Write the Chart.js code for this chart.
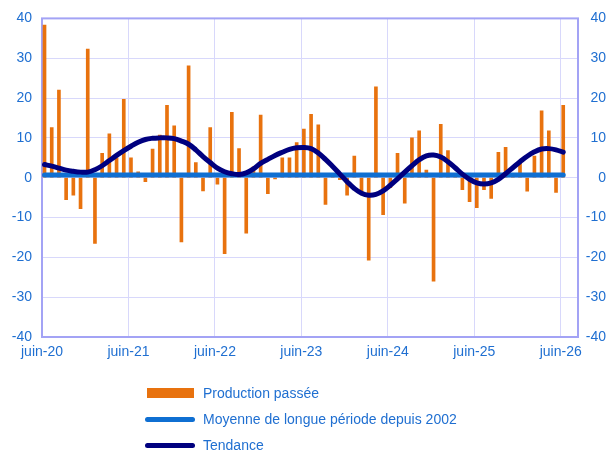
<!DOCTYPE html>
<html>
<head>
<meta charset="utf-8">
<script src="https://cdn.jsdelivr.net/npm/chart.js@4.4.1/dist/chart.umd.min.js"></script>
<style>
    body { margin: 0; background: #fff; }
    #wrap { position: relative; width: 606px; height: 456px; }
    #legend { position: absolute; left: 145px; top: 380px; font: 14px 'Liberation Sans', Arial, sans-serif; color: #1f6fd1; }
    .item { height: 26px; display: flex; align-items: center; }
    .sym { width: 50px; margin-right: 8px; display: flex; justify-content: center; }
</style>
</head>
<body>
<div id="wrap">
    <canvas id="myChart" width="606" height="456"></canvas>
    <div id="legend"></div>
</div>
<script>
// tick labels of the x axis (one per year, June)
var tickLabels = ['juin-20', 'juin-21', 'juin-22', 'juin-23', 'juin-24', 'juin-25', 'juin-26'];
var yTicks = [-40, -30, -20, -10, 0, 10, 20, 30, 40];

// monthly values, juin-20 .. juin-26
var production = [
    38.3, 12.6, 22.0, -5.5, -4.4, -7.8, 32.3, -16.5, 6.1, 11.0, 5.0, 19.7,
    5.0, 1.5, -1.0, 7.2, 10.7, 18.2, 13.0, -16.1, 28.1, 3.8, -3.3, 12.6,
    -1.6, -19.1, 16.4, 7.3, -13.9, 2.7, 15.7, -4.0, -0.3, 5.0, 5.0, 8.8,
    12.2, 15.9, 13.3, -6.7, 0.5, -0.5, -4.4, 5.4, -4.0, -20.7, 22.8, -9.3,
    -2.5, 6.1, -6.4, 10.0, 11.8, 1.9, -26.0, 13.4, 6.8, 0.5, -3.0, -6.0,
    -7.5, -3.0, -5.2, 6.4, 7.6, 0.5, 3.8, -3.4, 5.4, 16.8, 11.8, -3.7,
    18.2
];
var trend = [
    3.3, 2.9, 2.4, 1.9, 1.6, 1.4, 1.4, 2.0, 3.0, 4.3, 5.6, 6.8,
    7.9, 8.9, 9.6, 9.9, 10.0, 10.0, 9.8, 9.2, 8.4, 7.0, 5.3, 3.8,
    2.4, 1.5, 1.0, 0.8, 1.2, 2.2, 3.6, 4.6, 5.6, 6.4, 7.1, 7.5,
    7.6, 7.3, 6.2, 4.6, 2.8, 0.9, -1.0, -2.7, -3.9, -4.4, -4.2, -3.3,
    -1.9, -0.3, 1.4, 3.0, 4.5, 5.5, 5.7, 5.2, 4.0, 2.5, 0.9, -0.4,
    -1.3, -1.6, -1.3, -0.4, 1.0, 2.5, 4.0, 5.4, 6.5, 7.2, 7.3, 7.0,
    6.4
];
var longTermAvg = 0.7;

var monthShift = 0.35;
var blueText = '#1f6fd1';
var gridColor = '#d8d8fb';

function toPoints(arr) {
    return arr.map(function (v, i) { return { x: i, y: v }; });
}

const frame = {
    id: 'frame',
    beforeDatasetsDraw(chart) {
        var a = chart.chartArea, c = chart.ctx;
        c.save();
        c.strokeStyle = '#a3a3f5';
        c.lineWidth = 2;
        c.strokeRect(a.left, a.top, a.right - a.left, a.bottom - a.top);
        c.restore();
    }
};

var ctx = document.getElementById('myChart').getContext('2d');
var myChart = new Chart(ctx, {
    type: 'bar',
    data: {
        datasets: [{
            type: 'line',
            label: 'Tendance',
            data: toPoints(trend),
            borderColor: '#00007f',
            borderWidth: 5,
            borderCapStyle: 'round',
            pointRadius: 0,
            tension: 0.4,
            order: 1
        }, {
            type: 'line',
            label: 'Moyenne de longue période depuis 2002',
            data: [{ x: 0, y: longTermAvg }, { x: production.length - 1, y: longTermAvg }],
            borderColor: '#0f6fd2',
            borderWidth: 5,
            borderCapStyle: 'round',
            pointRadius: 0,
            order: 2
        }, {
            label: 'Production passée',
            data: toPoints(production),
            backgroundColor: '#e8720e',
            barThickness: 3,
            order: 3
        }]
    },
    options: {
        responsive: false,
        animation: false,
        layout: { padding: { top: 17, bottom: 89, left: 0, right: 0 } },
        plugins: {
            legend: { display: false },
            tooltip: { enabled: false }
        },
        scales: {
            x: {
                type: 'linear',
                offset: false,
                min: -monthShift,
                max: 74.4 - monthShift,
                afterBuildTicks: function (scale) {
                    scale.ticks = tickLabels.map(function (l, k) { return { value: 12 * k - monthShift }; });
                },
                afterFit: function (scale) { scale.height = 30; },
                grid: { color: gridColor, drawTicks: false, offset: false },
                border: { display: false },
                ticks: {
                    padding: 7,
                    color: blueText,
                    font: { family: "'Liberation Sans', Arial, sans-serif", size: 14 },
                    callback: function (v, i) { return tickLabels[i]; }
                }
            },
            y: {
                position: 'left',
                min: -40,
                max: 40,
                afterBuildTicks: function (scale) {
                    scale.ticks = yTicks.map(function (v) { return { value: v }; });
                },
                afterFit: function (scale) { scale.width = 42; },
                grid: { color: gridColor, drawTicks: false },
                border: { display: false },
                ticks: {
                    padding: 10,
                    color: blueText,
                    font: { family: "'Liberation Sans', Arial, sans-serif", size: 14 }
                }
            },
            y2: {
                position: 'right',
                min: -40,
                max: 40,
                afterBuildTicks: function (scale) {
                    scale.ticks = yTicks.map(function (v) { return { value: v }; });
                },
                afterFit: function (scale) { scale.width = 28; },
                grid: { display: false },
                border: { display: false },
                ticks: {
                    padding: 0,
                    crossAlign: 'far',
                    color: blueText,
                    font: { family: "'Liberation Sans', Arial, sans-serif", size: 14 }
                }
            }
        }
    },
    plugins: [frame]
});

// legend below the chart, in the order of the reference
var legendOrder = [2, 1, 0];
var box = document.getElementById('legend');
legendOrder.forEach(function (di) {
    var ds = myChart.data.datasets[di];
    var item = document.createElement('div');
    item.className = 'item';
    var sym = document.createElement('div');
    sym.className = 'sym';
    var mark = document.createElement('div');
    if (ds.type === 'line') {
        mark.style.cssText = 'width:50px;height:5px;border-radius:3px;background:' + ds.borderColor;
    } else {
        mark.style.cssText = 'width:47px;height:10px;background:' + ds.backgroundColor;
    }
    sym.appendChild(mark);
    var txt = document.createElement('span');
    txt.textContent = ds.label;
    item.appendChild(sym);
    item.appendChild(txt);
    box.appendChild(item);
});
</script>
</body>
</html>
